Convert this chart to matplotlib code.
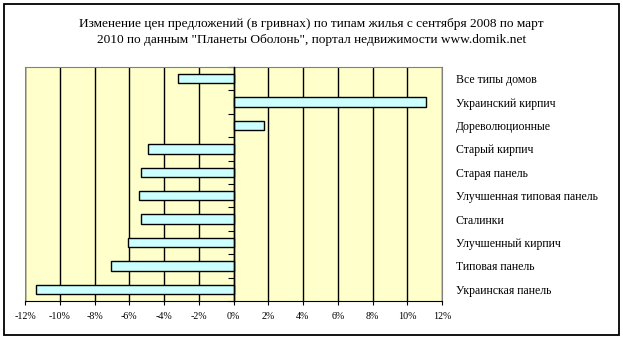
import matplotlib.pyplot as plt
from matplotlib.patches import Rectangle
from matplotlib.ticker import FuncFormatter
import numpy as np

# housing types, top to bottom as in the chart
categories = ['Все типы домов', 'Украинский кирпич', 'Дореволюционные',
              'Старый кирпич', 'Старая панель', 'Улучшенная типовая панель',
              'Сталинки', 'Улучшенный кирпич', 'Типовая панель', 'Украинская панель']
change_pct = [-3.2, 11.1, 1.75, -4.9, -5.35, -5.45, -5.35, -6.1, -7.05, -11.35]

title = ('Изменение цен предложений (в гривнах) по типам жилья с сентября 2008 по март\n'
         '2010 по данным "Планеты Оболонь", портал недвижимости www.domik.net')

plt.rcParams['font.family'] = ['Liberation Serif', 'DejaVu Serif']

fig = plt.figure(figsize=(6.23, 3.39), dpi=100)
fig.patch.set_facecolor('white')
fig.patches.append(Rectangle((4/623, 4/339), 615/623, 331/339, transform=fig.transFigure,
                             fill=False, edgecolor='black', linewidth=1.3))

ax = fig.add_axes([25/623, 38/339, 417/623, 234/339])
ax.set_facecolor('#FFFFCC')

y = np.arange(len(categories))
ax.barh(y, change_pct, height=0.4, color='#CCFFFF', edgecolor='black', linewidth=1.0, zorder=3)

ax.set_xlim(-12, 12)
ax.set_ylim(len(categories) - 0.5, -0.5)
ax.set_xticks(np.arange(-12, 13, 2))
ax.xaxis.set_major_formatter(FuncFormatter(lambda v, p: f'{v:.0f}%'))
ax.tick_params(axis='x', labelsize=7.2, length=3, width=0.8, pad=5)
ax.grid(axis='x', color='black', linewidth=1.0, zorder=1)

# category axis sits at 0, tick marks between categories
ax.spines['left'].set_position(('data', 0))
ax.spines['left'].set_color('black')
ax.spines['left'].set_linewidth(1.0)
ax.spines['left'].set_zorder(4)
ax.set_yticks(np.arange(len(categories) + 1) - 0.5)
ax.set_yticklabels([])
ax.tick_params(axis='y', length=4, width=0.8, direction='out')
for s in ['top', 'right']:
    ax.spines[s].set_color('#808080')
ax.spines['bottom'].set_color('black')

# frame line at the left edge of plot area
ax.axvline(-12, color='#808080', linewidth=1.0, zorder=2)

# category labels on the right
ax2 = ax.twinx()
ax2.set_ylim(ax.get_ylim())
ax2.set_yticks(y)
ax2.set_yticklabels(categories, fontsize=8.5)
ax2.tick_params(axis='y', length=0, pad=10)
for s in ax2.spines.values():
    s.set_visible(False)

fig.text(0.5, 1 - 32/339, title, ha='center', va='center', fontsize=9.6, linespacing=1.4)

fig.savefig('out.png', dpi=100)
